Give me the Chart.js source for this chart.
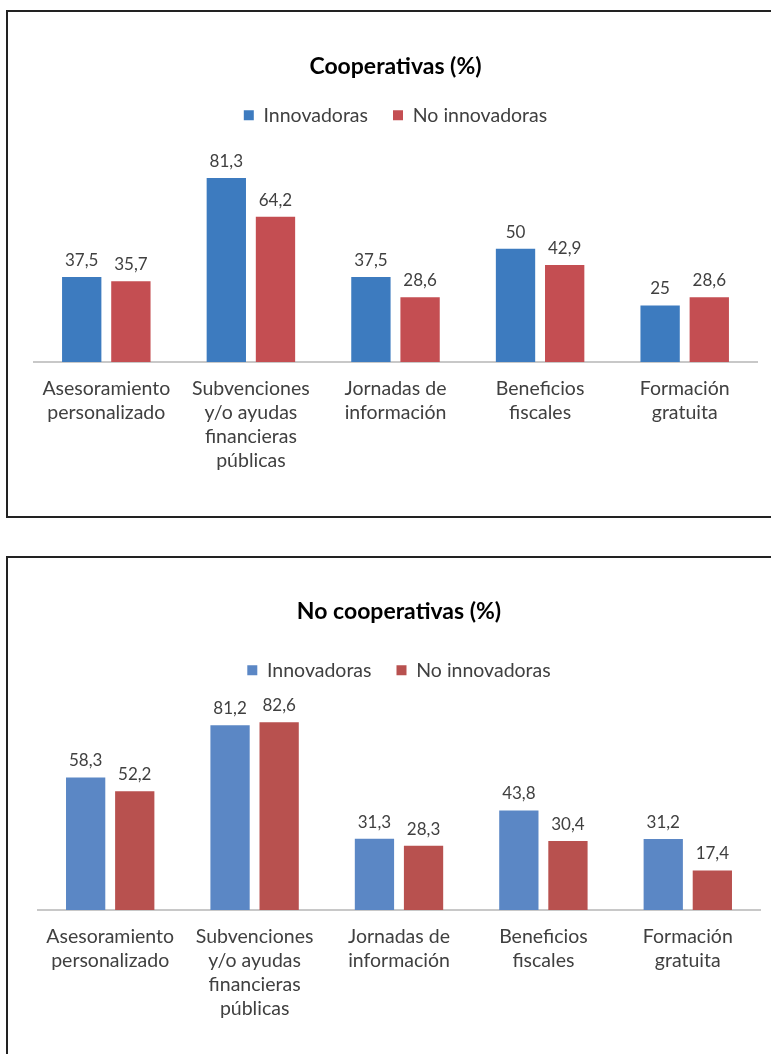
<!DOCTYPE html>
<html>
<head>
<meta charset="utf-8">
<script src="https://cdn.jsdelivr.net/npm/chart.js@4.4.0/dist/chart.umd.min.js"></script>
<style>
  body { margin: 0; background: #fff; width: 771px; height: 1054px; overflow: hidden; position: relative; }
  .box { position: absolute; left: 6px; width: 820px; border: 2px solid #222; box-sizing: border-box; }
  #box1 { top: 10px; height: 508px; }
  #box2 { top: 556px; height: 540px; }
  canvas { position: absolute; left: 8px; }
</style>
</head>
<body>
<div class="box" id="box1"></div>
<div class="box" id="box2"></div>
<canvas id="chartCoop" width="763" height="504" style="top:12px"></canvas>
<canvas id="chartNoCoop" width="763" height="496" style="top:558px"></canvas>
<script>
const categories = [
    ['Asesoramiento', 'personalizado'],
    ['Subvenciones', 'y/o ayudas', 'financieras', 'públicas'],
    ['Jornadas de', 'información'],
    ['Beneficios', 'fiscales'],
    ['Formación', 'gratuita']
];
const seriesNames = ['Innovadoras', 'No innovadoras'];

const coopInnovadoras = [37.5, 81.3, 37.5, 50, 25];
const coopNoInnovadoras = [35.7, 64.2, 28.6, 42.9, 28.6];

const noCoopInnovadoras = [58.3, 81.2, 31.3, 43.8, 31.2];
const noCoopNoInnovadoras = [52.2, 82.6, 28.3, 30.4, 17.4];

const FONT = 'Lato';
const TEXT_GREY = '#404040';

// values above each bar, decimal comma as in the original
const barValueLabels = {
    id: 'barValueLabels',
    afterDatasetsDraw(chart) {
        const ctx = chart.ctx;
        ctx.save();
        ctx.font = '17px ' + FONT;
        ctx.fillStyle = TEXT_GREY;
        ctx.textAlign = 'center';
        ctx.textBaseline = 'alphabetic';
        chart.data.datasets.forEach((ds, i) => {
            chart.getDatasetMeta(i).data.forEach((bar, j) => {
                ctx.fillText(String(ds.data[j]).replace('.', ','), bar.x, bar.y - 11);
            });
        });
        ctx.restore();
    }
};

function makeChart(canvasId, title, innov, noInnov, colors, yMax, titlePad, padding) {
    const ctx = document.getElementById(canvasId).getContext('2d');
    return new Chart(ctx, {
        type: 'bar',
        data: {
            labels: categories,
            datasets: [{
                label: seriesNames[0],
                data: innov,
                backgroundColor: colors[0]
            }, {
                label: seriesNames[1],
                data: noInnov,
                backgroundColor: colors[1]
            }]
        },
        options: {
            responsive: false,
            animation: false,
            devicePixelRatio: 1,
            categoryPercentage: 0.68,
            barPercentage: 0.8,
            layout: { padding: padding },
            plugins: {
                title: {
                    display: true,
                    text: title,
                    color: '#000',
                    font: { family: FONT, size: 23, weight: 'bold' },
                    padding: titlePad
                },
                legend: {
                    labels: {
                        boxWidth: 10,
                        boxHeight: 10,
                        padding: 25,
                        color: TEXT_GREY,
                        font: { family: FONT, size: 19.5 }
                    }
                },
                tooltip: { enabled: false }
            },
            scales: {
                x: {
                    grid: { display: false, drawTicks: false },
                    border: { color: '#c8c8c8', width: 2 },
                    ticks: {
                        padding: 15,
                        color: TEXT_GREY,
                        maxRotation: 0,
                        autoSkip: false,
                        font: { family: FONT, size: 19.5, lineHeight: 1.23 }
                    }
                },
                y: {
                    display: false,
                    min: 0,
                    max: yMax
                }
            }
        },
        plugins: [barValueLabels]
    });
}

makeChart('chartCoop', 'Cooperativas (%)', coopInnovadoras, coopNoInnovadoras,
    ['#3d7bbf', '#c44e52'], 100.2, { top: 41, bottom: 0 }, { left: 26, right: 14, top: 0, bottom: 28 });

makeChart('chartNoCoop', 'No cooperativas (%)', noCoopInnovadoras, noCoopNoInnovadoras,
    ['#5b87c5', '#b8514f'], 96.7, { top: 40, bottom: 10 }, { left: 30, right: 11, top: 0, bottom: 18 });
</script>
</body>
</html>
